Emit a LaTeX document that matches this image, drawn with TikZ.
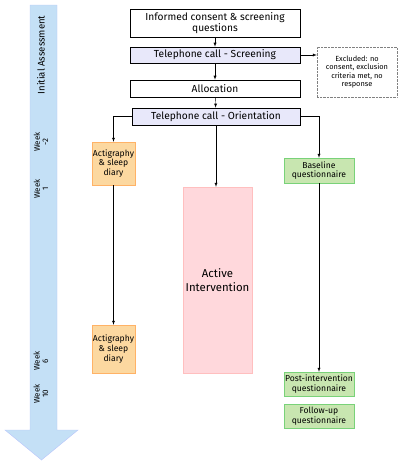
\documentclass[tikz,border=0pt]{standalone}
\usepackage{fontspec}
\setmainfont{Fira Sans}
\definecolor{lavender}{RGB}{232,232,250}
\definecolor{actiorange}{RGB}{252,216,160}
\definecolor{activepink}{RGB}{255,216,220}
\definecolor{quesgreen}{RGB}{200,230,176}
\definecolor{timeblue}{RGB}{196,224,246}
\begin{document}
\begin{tikzpicture}[x=1pt, y=-1pt, >=latex,
  box/.style={shape=rectangle, draw=black, semithick, align=center, inner sep=1pt, font=\fontsize{10.2}{11}\selectfont},
  phase/.style={box, fill=lavender},
  excl/.style={shape=rectangle, draw=gray, densely dotted, align=center, inner sep=1pt, minimum width=80, minimum height=50, font=\fontsize{7.4}{8.6}\selectfont},
  acti/.style={shape=rectangle, draw=orange!60, fill=actiorange, align=center, inner sep=0pt, minimum width=43, font=\fontsize{8.6}{9.8}\selectfont},
  ques/.style={shape=rectangle, draw=green!50!gray!70, fill=quesgreen, align=center, inner sep=0pt, minimum width=70, minimum height=24, font=\fontsize{8.6}{9.8}\selectfont},
  week/.style={rotate=90, align=center, font=\fontsize{8}{8.5}\selectfont}]
\useasboundingbox (0,0) rectangle (400,464);
% timeline
\draw[draw=timeblue!70!blue!60, fill=timeblue] (30,5) -- (57,5) -- (57,430) -- (78,430) -- (41.5,460) -- (5,430) -- (30,430) -- cycle;
\node[rotate=90, font=\fontsize{9.6}{10}\selectfont] (T0) at (41,55) {Initial Assessment};
\node[week] (T1) at (41,142) {Week\\-2};
\node[week] (T2) at (41,189) {Week\\1};
\node[week] (T3) at (41,361) {Week\\6};
\node[week] (T4) at (41,394) {Week\\10};
% enrolment
\node[box, minimum width=170, minimum height=28] (B1) at (215,23) {Informed consent \& screening\\questions};
\node[phase, minimum width=170, minimum height=16] (B2) at (215,55) {Telephone call - Screening};
\node[box, minimum width=170, minimum height=17] (B3) at (215,88.5) {Allocation};
\node[phase, minimum width=168, minimum height=17] (B4) at (216,116.5) {Telephone call - Orientation};
\node[excl] (X) at (357,72) {Excluded: no\\consent, exclusion\\criteria met, no\\response};
% arms
\node[acti, minimum height=43] (A1) at (113.5,163.5) {Actigraphy\\\& sleep\\diary};
\node[acti, minimum height=48] (A2) at (113.5,349) {Actigraphy\\\& sleep\\diary};
\node[shape=rectangle, draw=red!25, fill=activepink, align=center, inner sep=0pt, minimum width=69, minimum height=186, font=\fontsize{11.4}{13.5}\selectfont] (I) at (217.5,280) {Active\\Intervention};
\node[ques, minimum height=25] (Q1) at (319,170.5) {Baseline\\questionnaire};
\node[ques] (Q2) at (319,384) {Post-intervention\\questionnaire};
\node[ques] (Q3) at (319,416) {Follow-up\\questionnaire};
% connectors
\path [->, draw=black] (B1) edge (B2);
\path [->, draw=black] (B2) edge (B3);
\path [->, draw=black] (B3) edge (B4);
\draw [->] (B2.east) -- (X.west |- B2.east);
\draw [->] (B4.west) -| (A1.north);
\draw [->] (B4.east) -| (Q1.north);
\draw [->] (B4.south) -- (I.north -| B4.south);
\path [->, draw=black] (A1) edge (A2);
\path [->, draw=black] (Q1) edge (Q2);
\end{tikzpicture}
\end{document}
